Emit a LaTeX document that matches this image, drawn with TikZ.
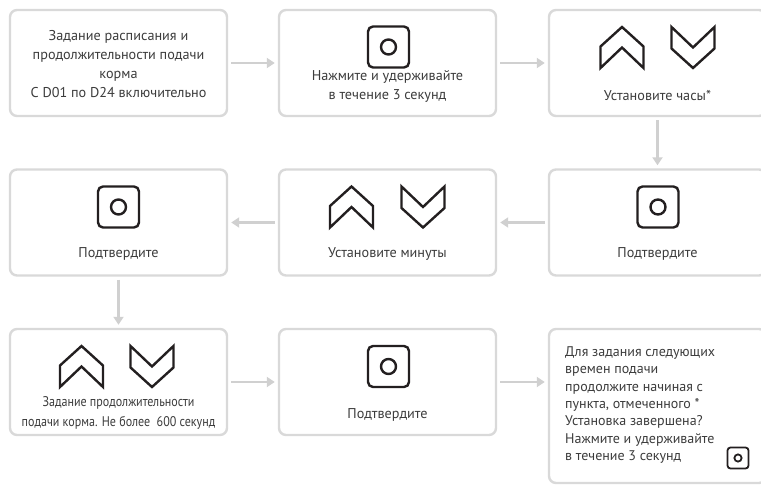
\documentclass[tikz,border=0pt]{standalone}
\usepackage{fontspec}
\setmainfont{PT Sans}
\newfontfamily\narrowfont[FakeStretch=0.86]{PT Sans}
\usetikzlibrary{arrows.meta}
\definecolor{framegray}{HTML}{D9D9D9}
\definecolor{arrowgray}{HTML}{D0D0D0}
\definecolor{textgray}{HTML}{3C3C3C}
\definecolor{icondark}{HTML}{231F20}
\tikzset{
	boxstyle/.style={rectangle,rounded corners=7pt,draw=framegray,line width=2.4pt,fill=white,minimum width=217pt,minimum height=106pt,inner sep=0pt},
	textstyle/.style={align=center,text=textgray,font=\fontsize{14.2}{19}\selectfont,inner sep=0pt},
	flowarrow/.style={draw=arrowgray,line width=2.2pt,shorten <=3pt,shorten >=3pt,-{Triangle[length=8pt,width=10pt]}},
	iconline/.style={draw=icondark,line width=2.4pt},
	buttonpic/.pic={
		\draw[iconline,rounded corners=5pt] (-20.5,-20.5) rectangle (20.5,20.5);
		\draw[iconline] (0,0) circle (7.5pt);
	},
	smallbutton/.pic={
		\draw[iconline,line width=1.8pt,rounded corners=3pt] (-10.5,-10.5) rectangle (10.5,10.5);
		\draw[iconline,line width=1.8pt] (0,0) circle (3.6pt);
	},
	uppic/.pic={
		\draw[iconline,line join=miter] (0,-20.5) -- (21.5,-1) -- (21.5,20.5) -- (0,0) -- (-21.5,20.5) -- (-21.5,-1) -- cycle;
	},
	downpic/.pic={
		\draw[iconline,line join=miter] (0,20.5) -- (21.5,1) -- (21.5,-20.5) -- (0,0) -- (-21.5,-20.5) -- (-21.5,1) -- cycle;
	}
}
\begin{document}
\begin{tikzpicture}[x=1pt,y=-1pt]
	\clip (0,0) rectangle (761,485);
	\useasboundingbox (0,0) rectangle (761,485);
	\node[boxstyle] (sched) at (118.5,63) {};
	\node[boxstyle] (hold) at (387.5,63) {};
	\node[boxstyle] (hours) at (657.5,63) {};
	\node[boxstyle] (okhours) at (657.5,222.5) {};
	\node[boxstyle] (minutes) at (387.5,222.5) {};
	\node[boxstyle] (okmin) at (118.5,222.5) {};
	\node[boxstyle] (duration) at (118.5,382) {};
	\node[boxstyle] (okdur) at (387.5,382) {};
	\node[boxstyle,minimum height=154pt] (finish) at (657.5,406) {};
	\node[textstyle] (schedtext) at (118.5,64.5) {Задание расписания и\\продолжительности подачи\\корма\\С D01 по D24 включительно};
	\pic at (388.5,47) {buttonpic};
	\node[textstyle] (holdtext) at (387.5,86.5) {Нажмите и удерживайте\\в течение 3 секунд};
	\pic at (622,47.5) {uppic};
	\pic at (693,47.5) {downpic};
	\node[textstyle] (hourstext) at (657.5,96) {Установите часы*};
	\pic at (658,207) {buttonpic};
	\node[textstyle] (okhourstext) at (657.5,254) {Подтвердите};
	\pic at (351.5,207) {uppic};
	\pic at (423,207) {downpic};
	\node[textstyle] (minutestext) at (387.5,254) {Установите минуты};
	\pic at (118.5,207) {buttonpic};
	\node[textstyle] (okmintext) at (118.5,254) {Подтвердите};
	\pic at (81.5,366.5) {uppic};
	\pic at (152,366.5) {downpic};
	\node[textstyle,font=\narrowfont\fontsize{14}{20}\selectfont] (durationtext) at (118.5,413) {Задание продолжительности\\подачи корма. Не более~ 600 секунд};
	\pic at (388.5,366.5) {buttonpic};
	\node[textstyle] (okdurtext) at (387.5,415) {Подтвердите};
	\node[textstyle,align=left,anchor=west,font=\fontsize{14}{17.4}\selectfont] (finishtext) at (565,405) {Для задания следующих\\времен подачи\\продолжите начиная с\\пункта, отмеченного *\\Установка завершена?\\Нажмите и удерживайте\\в течение 3 секунд};
	\pic at (738,458) {smallbutton};
	\draw[flowarrow] (sched) -- (hold);
	\draw[flowarrow] (hold) -- (hours);
	\draw[flowarrow] (hours) -- (okhours);
	\draw[flowarrow] (okhours) -- (minutes);
	\draw[flowarrow] (minutes) -- (okmin);
	\draw[flowarrow] (okmin) -- (duration);
	\draw[flowarrow] (duration) -- (okdur);
	\draw[flowarrow] (okdur.east) -- (finish.west |- okdur.east);
\end{tikzpicture}
\end{document}
